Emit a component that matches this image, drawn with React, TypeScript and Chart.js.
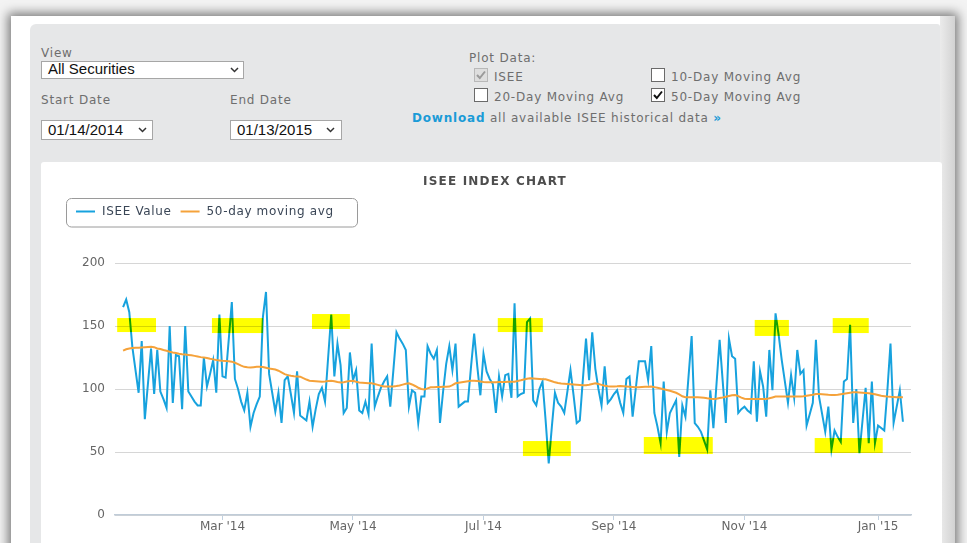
import React, { useEffect, useRef } from "react";
import { Chart, registerables } from "chart.js";

Chart.register(...registerables);

// ---------- data ----------
const seriesNames = ["ISEE Value", "50-day moving avg"];
const chartTitle = "ISEE INDEX CHART";

// one value per trading day, 01/14/2014 .. 01/13/2015
const iseeValues = [
  165, 171, 161, 133, 115, 97, 138, 76, 104, 132,
  96, 131, 98, 92, 85, 150, 89, 127, 126, 84,
  150, 98, 94, 90, 87, 87, 125, 102, 112, 123,
  97, 159, 110, 109, 139, 169, 108, 100, 90, 83,
  97, 70, 81, 88, 94, 157, 177, 112, 97, 82,
  97, 73, 107, 110, 96, 81, 114, 79, 77, 75,
  90, 70, 84, 96, 101, 90, 125, 159, 110, 136,
  119, 81, 85, 129, 107, 115, 83, 81, 90, 80,
  136, 86, 94, 101, 106, 110, 86, 115, 145, 140,
  136, 131, 86, 99, 97, 73, 94, 94, 134, 128,
  124, 131, 73, 98, 120, 134, 115, 136, 86, 88,
  90, 90, 118, 144, 118, 95, 128, 114, 108, 104,
  81, 110, 94, 111, 112, 93, 168, 94, 96, 97,
  153, 156, 91, 87, 100, 106, 75, 41, 70, 97,
  89, 86, 81, 98, 115, 95, 73, 75, 108, 140,
  107, 145, 116, 100, 87, 118, 89, 92, 96, 99,
  89, 81, 108, 110, 78, 100, 122, 122, 122, 107,
  134, 81, 70, 57, 106, 66, 81, 86, 91, 46,
  87, 78, 110, 142, 73, 70, 66, 59, 52, 99,
  69, 104, 139, 106, 73, 140, 126, 124, 81, 84,
  86, 83, 81, 122, 74, 114, 102, 78, 131, 99,
  160, 143, 123, 106, 89, 111, 93, 131, 112, 115,
  71, 80, 89, 139, 94, 80, 66, 86, 52, 67,
  62, 58, 106, 108, 151, 73, 100, 49, 75, 101,
  57, 106, 57, 71, 69, 67, 99, 136, 73, 86,
  99, 74,
];

const ma50Values = [
  130.4, 131.5, 132.2, 132.5, 132.7, 132.8, 133, 133.2, 133.4, 133.6,
  133.2, 132.2, 131.8, 131, 130.3, 129.6, 129, 128.5, 128, 127.6,
  127.3, 127, 126.7, 126.3, 125.8, 125.3, 125, 124.6, 124, 123.5,
  123, 122.7, 122.4, 122.2, 122, 121.7, 120.8, 119.8, 118.5, 117.6,
  117.2, 117, 117.3, 117.6, 117.7, 117.4, 116.8, 116.2, 115.8, 115.4,
  114.5, 113.2, 111.8, 111, 110.5, 110.2, 110, 109.8, 108.6, 107.5,
  106.6, 106.4, 106.2, 106, 105.8, 106, 106.3, 106.6, 106.2, 105.6,
  105.2, 105.4, 106, 106.4, 106.6, 105.8, 105.2, 105, 104.8, 104.6,
  104.5, 104, 103.3, 102.6, 102, 101.9, 101.9, 101.9, 102.3, 102.8,
  103.5, 104.2, 104.5, 103.6, 102.4, 101, 100, 99.7, 100.5, 101.3,
  101.4, 101.5, 101.6, 101.7, 101.8, 101.9, 103, 104.5, 104.9, 105.3,
  105.7, 106.1, 106.5, 106.6, 106.3, 106, 105.6, 105.3, 105.3, 105.4,
  105.4, 105.5, 105.6, 105.6, 105.7, 105.7, 105.8, 106.3, 106.9, 107.6,
  108.2, 108.5, 108.4, 108.2, 108, 107.8, 107.7, 107, 106.2, 105.3,
  104.7, 104.4, 104.2, 104, 103.8, 103.6, 103.4, 103.2, 103, 102.9,
  103.4, 104, 104.5, 104, 103.3, 102.6, 102.1, 101.9, 101.9, 102.1,
  102.4, 102.2, 102, 101.8, 101.6, 101.4, 101.3, 101.5, 101.7, 101.8,
  101.9, 101.5, 101, 100.4, 99.8, 99.2, 98.6, 97.8, 97, 95.7,
  94.2, 93.4, 93.4, 93.4, 93.4, 93.4, 93.3, 93, 92.6, 92.3,
  92.1, 92.3, 92.8, 93.3, 93.9, 94.5, 95, 95.2, 94.4, 93.2,
  92.3, 92.1, 92.1, 92.1, 92.1, 92.1, 92.1, 92.1, 92.6, 93.3,
  94, 94, 94.1, 94, 94, 94, 94, 94, 94, 94.3,
  94.7, 95.1, 95.5, 96, 96, 95.8, 95.6, 95.4, 95.3, 95.2,
  95.5, 95.9, 96.3, 96.7, 97.1, 97.4, 97.4, 97.2, 97, 96.8,
  96.6, 96.3, 95.8, 95.2, 94.6, 94.3, 94, 93.8, 93.7, 93.5,
  93.4, 93.4,
];

// month ticks: trading-day index of each labelled month
const tickIndex = [32, 74, 116, 158, 200, 243];
const tickLabels = ["Mar '14", "May '14", "Jul '14", "Sep '14", "Nov '14", "Jan '15"];

// highlighter marks, in data units: [fromIndex, toIndex, fromValue, toValue]
const highlights = [
  [-1.9, 10.6, 145.2, 156.3],
  [28.6, 45.0, 144.4, 156.3],
  [60.8, 73.0, 147.6, 159.5],
  [120.6, 135.1, 145.2, 156.3],
  [128.7, 144.1, 46.8, 58.7],
  [167.6, 189.8, 48.4, 61.9],
  [203.3, 214.3, 142.1, 154.8],
  [228.4, 240.0, 144.4, 156.3],
  [222.6, 244.5, 49.2, 61.1],
];

// ---------- styles ----------
const BLUE = "#17a2de";
const ORANGE = "#f5a23a";
const FONT = '"DejaVu Sans", Verdana, sans-serif';

const highlightPlugin = {
  id: "highlighter",
  afterDatasetsDraw(chart: any) {
    const { ctx, scales } = chart;
    const xs = scales.x;
    const ys = scales.y;
    ctx.save();
    ctx.globalCompositeOperation = "multiply";
    ctx.fillStyle = "#ffff00";
    for (const h of highlights) {
      const x0 = xs.getPixelForValue(h[0]);
      const x1 = xs.getPixelForValue(h[1]);
      const y0 = ys.getPixelForValue(h[3]);
      const y1 = ys.getPixelForValue(h[2]);
      ctx.fillRect(x0, y0, x1 - x0, y1 - y0);
    }
    ctx.restore();
  },
};

const headerPlugin = {
  id: "header",
  afterDraw(chart: any) {
    const ctx = chart.ctx;
    ctx.save();
    // title
    (ctx as any).letterSpacing = "1.2px";
    ctx.font = `bold 12px ${FONT}`;
    ctx.fillStyle = "#4d4d4d";
    ctx.textAlign = "center";
    ctx.textBaseline = "middle";
    ctx.fillText(chartTitle, 454, 20);
    // legend box
    ctx.beginPath();
    ctx.lineWidth = 1;
    ctx.strokeStyle = "#9a9a9a";
    (ctx as any).roundRect(25.5, 36.5, 291, 28.5, 5);
    ctx.stroke();
    (ctx as any).letterSpacing = "0.65px";
    ctx.font = `12px ${FONT}`;
    ctx.textAlign = "left";
    let x = 35;
    const y = 49.5;
    chart.data.datasets.forEach((ds: any) => {
      ctx.beginPath();
      ctx.strokeStyle = ds.borderColor;
      ctx.lineWidth = 2;
      ctx.moveTo(x, y);
      ctx.lineTo(x + 19, y);
      ctx.stroke();
      ctx.fillStyle = "#3a4656";
      ctx.fillText(ds.label, x + 26, y);
      x += 26 + ctx.measureText(ds.label).width + 9;
    });
    ctx.restore();
  },
};

function ChartCanvas() {
  const ref = useRef<HTMLCanvasElement | null>(null);
  useEffect(() => {
    if (!ref.current) return;
    const chart = new Chart(ref.current, {
      type: "line",
      data: {
        datasets: [
          {
            label: seriesNames[0],
            data: iseeValues.map((v, i) => ({ x: i, y: v })),
            borderColor: BLUE,
            borderWidth: 2,
            pointRadius: 0,
            tension: 0,
            order: 2,
          },
          {
            label: seriesNames[1],
            data: ma50Values.map((v, i) => ({ x: i, y: v })),
            borderColor: ORANGE,
            borderWidth: 2,
            pointRadius: 0,
            tension: 0,
            order: 1,
          },
        ],
      },
      options: {
        responsive: false,
        animation: false,
        devicePixelRatio: 1,
        layout: { padding: { top: 101, left: 0, right: 31, bottom: 0 } },
        plugins: {
          legend: { display: false },
          title: { display: false },
          tooltip: { enabled: false },
        },
        scales: {
          x: {
            type: "linear",
            min: -2.6,
            max: 253.6,
            afterBuildTicks: (s: any) => {
              s.ticks = tickIndex.map((v) => ({ value: v }));
            },
            afterFit: (s: any) => {
              s.height = 28;
            },
            ticks: {
              autoSkip: false,
              maxRotation: 0,
              padding: 0,
              color: "#666",
              font: { family: FONT, size: 12 },
              callback: (v: any) => {
                const k = tickIndex.indexOf(Number(v));
                return k >= 0 ? tickLabels[k] : "";
              },
            },
            grid: {
              drawOnChartArea: false,
              drawTicks: true,
              tickLength: 5,
              color: "#c0d0e0",
            },
            border: { display: true, color: "#c0ccd8", width: 1.5 },
          },
          y: {
            min: 0,
            max: 200,
            afterFit: (s: any) => {
              s.width = 74;
            },
            ticks: {
              stepSize: 50,
              padding: 10,
              color: "#666",
              font: { family: FONT, size: 12 },
            },
            grid: { color: "#d6d6d6", drawTicks: false },
            border: { display: false },
          },
        },
      } as any,
      plugins: [highlightPlugin, headerPlugin],
    });
    return () => chart.destroy();
  }, []);
  return <canvas ref={ref} width={901} height={381} style={{ display: "block" }} />;
}

const labelStyle: React.CSSProperties = {
  position: "absolute",
  fontFamily: FONT,
  fontSize: 12,
  lineHeight: "14px",
  letterSpacing: "0.8px",
  color: "#6e6e6e",
  whiteSpace: "nowrap",
};

function Label({ x, y, text, color }: { x: number; y: number; text: string; color?: string }) {
  return <div style={{ ...labelStyle, left: x, top: y, color: color || "#6e6e6e" }}>{text}</div>;
}

function Chevron({ x, y }: { x: number; y: number }) {
  return (
    <svg style={{ position: "absolute", left: x, top: y }} width={9} height={6}>
      <polyline points="1,1 4.5,4.5 8,1" fill="none" stroke="#333" strokeWidth={1.5} />
    </svg>
  );
}

function SelectBox({ x, y, w, h, text, tx, ty, cx, cy }: any) {
  return (
    <>
      <div
        style={{
          position: "absolute",
          left: x,
          top: y,
          width: w,
          height: h,
          boxSizing: "border-box",
          border: "1px solid #a6a6a6",
          background: "#fff",
        }}
      />
      <div
        style={{
          position: "absolute",
          left: tx,
          top: ty,
          fontFamily: '"Liberation Sans", Arial, sans-serif',
          fontSize: 15,
          lineHeight: "18px",
          color: "#111",
          whiteSpace: "nowrap",
        }}
      >
        {text}
      </div>
      <Chevron x={cx} y={cy} />
    </>
  );
}

function CheckBox({ x, y, checked, disabled }: any) {
  return (
    <div
      style={{
        position: "absolute",
        left: x,
        top: y,
        width: 14,
        height: 14,
        boxSizing: "border-box",
        border: `1px solid ${disabled ? "#b8b8b8" : "#6a6a6a"}`,
        background: disabled ? "#dedede" : "#fff",
      }}
    >
      {checked && (
        <svg width={12} height={12} style={{ position: "absolute", left: 0, top: 0 }}>
          <polyline
            points="2,6 4.8,9 10,2.5"
            fill="none"
            stroke={disabled ? "#9a9a9a" : "#111"}
            strokeWidth={2}
          />
        </svg>
      )}
    </div>
  );
}

export default function App() {
  return (
    <div
      style={{
        position: "fixed",
        left: 0,
        top: 0,
        width: 967,
        height: 543,
        overflow: "hidden",
        background: "#f3f3f3",
      }}
    >
      {/* outer white frame with shadow */}
      <div
        style={{
          position: "absolute",
          left: 11,
          top: 16,
          width: 944,
          height: 620,
          background: "#fff",
          boxShadow: "0 0 10px 3px rgba(0,0,0,0.5)",
        }}
      />
      {/* gray panel */}
      <div
        style={{
          position: "absolute",
          left: 30,
          top: 24,
          width: 910,
          height: 620,
          background: "#e6e7e8",
          borderTopLeftRadius: 6,
          borderTopRightRadius: 3,
        }}
      />
      {/* right edge strip */}
      <div
        style={{
          position: "absolute",
          left: 940,
          top: 16,
          width: 15,
          height: 620,
          background: "linear-gradient(to right, #ebebeb, #d2d2d2)",
        }}
      />

      <Label x={41} y={46} text="View" />
      <SelectBox x={41} y={61} w={203} h={18} text="All Securities" tx={48} ty={60} cx={230} cy={67} />
      <Label x={41} y={93} text="Start Date" />
      <Label x={230} y={93} text="End Date" />
      <SelectBox x={41} y={120} w={112} h={20} text="01/14/2014" tx={48} ty={121} cx={138} cy={127} />
      <SelectBox x={230} y={120} w={112} h={20} text="01/13/2015" tx={237} ty={121} cx={326} cy={127} />

      <Label x={469} y={51} text="Plot Data:" />
      <CheckBox x={474} y={68} checked disabled />
      <Label x={494} y={70} text="ISEE" />
      <CheckBox x={651} y={68} />
      <Label x={671} y={70} text="10-Day Moving Avg" />
      <CheckBox x={474} y={88} />
      <Label x={494} y={90} text="20-Day Moving Avg" />
      <CheckBox x={651} y={88} checked />
      <Label x={671} y={90} text="50-Day Moving Avg" />

      <div style={{ ...labelStyle, left: 412, top: 111 }}>
        <span style={{ color: "#1b9bd7", fontWeight: "bold" }}>Download</span>
        <span> all available ISEE historical data </span>
        <span style={{ color: "#1b9bd7", fontWeight: "bold" }}>»</span>
      </div>

      {/* chart box */}
      <div
        style={{
          position: "absolute",
          left: 41,
          top: 162,
          width: 901,
          height: 400,
          background: "#fff",
          borderTopLeftRadius: 3,
          borderTopRightRadius: 3,
        }}
      >
        <ChartCanvas />
      </div>
    </div>
  );
}
